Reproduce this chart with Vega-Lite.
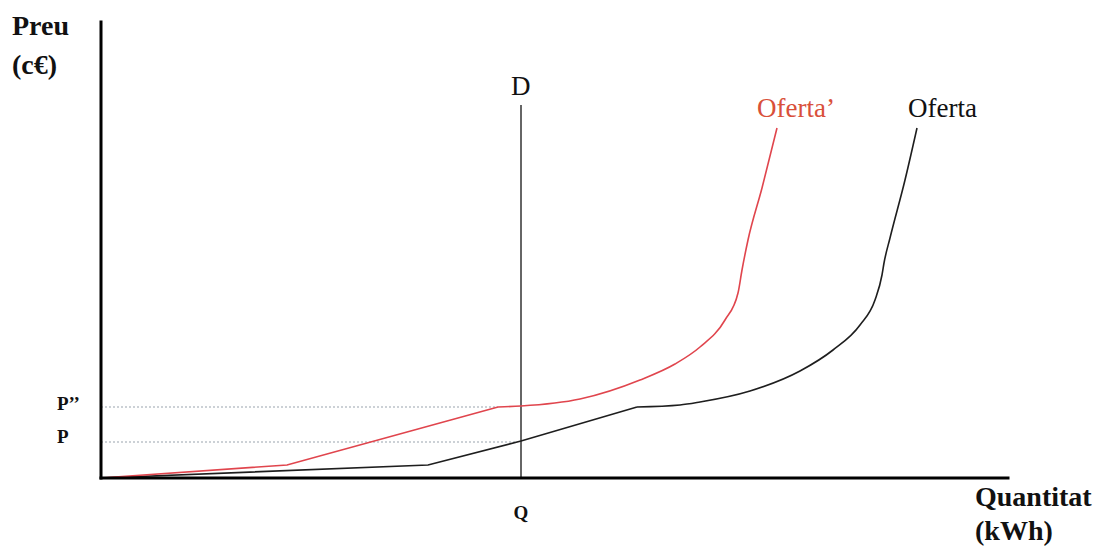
{
  "$schema": "https://vega.github.io/schema/vega-lite/v6.json",
  "width": 1101,
  "height": 547,
  "padding": 0,
  "autosize": {"type": "none"},
  "background": "white",
  "config": {"view": {"stroke": null}},
  "datasets": {
    "straight": [
      {"serie": "Oferta", "q": 0, "p": 0},
      {"serie": "Oferta", "q": 327, "p": 13},
      {"serie": "Oferta", "q": 420, "p": 37},
      {"serie": "Oferta", "q": 536, "p": 71},
      {"serie": "Oferta’", "q": 0, "p": 0},
      {"serie": "Oferta’", "q": 186, "p": 13},
      {"serie": "Oferta’", "q": 397, "p": 71}
    ],
    "curved": [
      {"serie": "Oferta", "q": 536, "p": 71},
      {"serie": "Oferta", "q": 579, "p": 73},
      {"serie": "Oferta", "q": 599, "p": 76},
      {"serie": "Oferta", "q": 649, "p": 87},
      {"serie": "Oferta", "q": 699, "p": 107},
      {"serie": "Oferta", "q": 732, "p": 128},
      {"serie": "Oferta", "q": 759, "p": 153},
      {"serie": "Oferta", "q": 774, "p": 178},
      {"serie": "Oferta", "q": 781, "p": 203},
      {"serie": "Oferta", "q": 783, "p": 215},
      {"serie": "Oferta", "q": 789, "p": 240},
      {"serie": "Oferta", "q": 804, "p": 298},
      {"serie": "Oferta", "q": 816, "p": 350},
      {"serie": "Oferta’", "q": 397, "p": 71},
      {"serie": "Oferta’", "q": 420, "p": 72},
      {"serie": "Oferta’", "q": 479, "p": 79},
      {"serie": "Oferta’", "q": 539, "p": 98},
      {"serie": "Oferta’", "q": 574, "p": 114},
      {"serie": "Oferta’", "q": 599, "p": 131},
      {"serie": "Oferta’", "q": 624, "p": 158},
      {"serie": "Oferta’", "q": 637, "p": 185},
      {"serie": "Oferta’", "q": 641, "p": 208},
      {"serie": "Oferta’", "q": 647, "p": 238},
      {"serie": "Oferta’", "q": 661, "p": 290},
      {"serie": "Oferta’", "q": 676, "p": 350}
    ],
    "guides": [
      {"q": 0, "p": 71, "q2": 397, "p2": 71},
      {"q": 0, "p": 36, "q2": 414, "p2": 36}
    ],
    "demand": [
      {"q": 420, "p": 0, "q2": 420, "p2": 373}
    ],
    "axes": [
      {"q": 0, "p": 0, "q2": 0, "p2": 456},
      {"q": 0, "p": 0, "q2": 907, "p2": 0}
    ],
    "boldLeft": [
      {"label": "Preu", "q": -89, "p": 443, "size": 28},
      {"label": "(c€)", "q": -89, "p": 404, "size": 28},
      {"label": "Quantitat", "q": 874, "p": -28, "size": 28},
      {"label": "(kWh)", "q": 874, "p": -62, "size": 28},
      {"label": "P’’", "q": -44, "p": 68, "size": 19},
      {"label": "P", "q": -44, "p": 35, "size": 19}
    ],
    "boldCenter": [
      {"label": "Q", "q": 420, "p": -41, "size": 19}
    ],
    "plainLabels": [
      {"label": "D", "q": 410, "p": 383, "col": "#111111"},
      {"label": "Oferta’", "q": 656, "p": 361, "col": "#d9503a"},
      {"label": "Oferta", "q": 807, "p": 361, "col": "#111111"}
    ]
  },
  "encoding": {
    "x": {"field": "q", "type": "quantitative", "scale": {"domain": [-101, 1000], "nice": false, "zero": false}, "axis": null},
    "y": {"field": "p", "type": "quantitative", "scale": {"domain": [-69, 478], "nice": false, "zero": false}, "axis": null}
  },
  "layer": [
    {
      "data": {"name": "guides"},
      "mark": {"type": "rule", "color": "#9aa3ad", "strokeWidth": 1.2, "strokeDash": [2, 2]},
      "encoding": {"x2": {"field": "q2"}, "y2": {"field": "p2"}}
    },
    {
      "data": {"name": "demand"},
      "mark": {"type": "rule", "color": "#333333", "strokeWidth": 1.5},
      "encoding": {"x2": {"field": "q2"}, "y2": {"field": "p2"}}
    },
    {
      "data": {"name": "straight"},
      "mark": {"type": "line", "strokeWidth": 1.6, "interpolate": "linear"},
      "encoding": {
        "color": {"field": "serie", "type": "nominal", "scale": {"domain": ["Oferta", "Oferta’"], "range": ["#1e1e1e", "#e0454d"]}, "legend": null},
        "order": {"field": "q", "type": "quantitative"}
      }
    },
    {
      "data": {"name": "curved"},
      "mark": {"type": "line", "strokeWidth": 1.6, "interpolate": "monotone"},
      "encoding": {
        "color": {"field": "serie", "type": "nominal", "scale": {"domain": ["Oferta", "Oferta’"], "range": ["#1e1e1e", "#e0454d"]}, "legend": null},
        "order": {"field": "q", "type": "quantitative"}
      }
    },
    {
      "data": {"name": "axes"},
      "mark": {"type": "rule", "color": "#000000", "strokeWidth": 3, "strokeCap": "square"},
      "encoding": {"x2": {"field": "q2"}, "y2": {"field": "p2"}}
    },
    {
      "data": {"name": "boldLeft"},
      "mark": {"type": "text", "font": "Liberation Serif", "fontWeight": "bold", "baseline": "alphabetic", "align": "left", "color": "#111111"},
      "encoding": {
        "text": {"field": "label"},
        "size": {"field": "size", "type": "quantitative", "scale": null}
      }
    },
    {
      "data": {"name": "boldCenter"},
      "mark": {"type": "text", "font": "Liberation Serif", "fontWeight": "bold", "baseline": "alphabetic", "align": "center", "color": "#111111"},
      "encoding": {
        "text": {"field": "label"},
        "size": {"field": "size", "type": "quantitative", "scale": null}
      }
    },
    {
      "data": {"name": "plainLabels"},
      "mark": {"type": "text", "font": "Liberation Serif", "fontSize": 27, "baseline": "alphabetic", "align": "left"},
      "encoding": {
        "text": {"field": "label"},
        "color": {"field": "col", "type": "nominal", "scale": null}
      }
    }
  ]
}
